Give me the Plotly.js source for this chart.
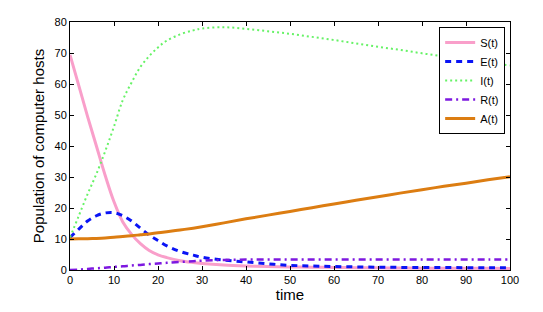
<!DOCTYPE html>
<html>
<head>
<meta charset="utf-8">
<script src="https://cdn.plot.ly/plotly-3.0.1.min.js"></script>
<style>html,body{margin:0;padding:0;background:#fff;}#chart{width:543px;height:312px;}</style>
</head>
<body>
<div id="chart"></div>
<script>
var time = [0,2,4,6,8,10,12,14,16,18,20,22,25,28,30,35,40,45,50,55,60,65,70,75,80,85,90,95,100];
var S = [69.4,59.5,49.5,40,30.5,22,15.5,11.5,8.5,6.3,4.9,4,3,2.4,2.1,1.6,1.3,1.1,1,0.9,0.8,0.75,0.7,0.65,0.6,0.6,0.55,0.55,0.5];
var E = [10.5,13.2,15.8,17.5,18.4,18.5,17.5,15.8,13.5,11.3,9.5,7.8,6,4.8,4.1,3.2,2.6,2,1.5,1.3,1.1,1,0.9,0.85,0.8,0.8,0.75,0.75,0.7];
var I = [10.5,17.5,24.5,31,38.3,46.3,54.8,60.5,65.5,69,71.8,74,76,77.3,77.9,78.3,77.8,77,76.2,75.2,74.2,73.1,72,71,69.9,68.9,67.9,66.9,66];
var R = [0,0.15,0.35,0.55,0.75,1,1.2,1.45,1.65,1.9,2.1,2.3,2.6,2.85,3,3.25,3.35,3.4,3.4,3.4,3.4,3.4,3.4,3.4,3.4,3.4,3.4,3.4,3.4];
var A = [10,10.05,10.1,10.2,10.35,10.55,10.8,11.05,11.35,11.65,12,12.35,12.9,13.5,13.95,15.2,16.5,17.7,18.9,20.1,21.3,22.5,23.6,24.8,25.9,27,28,29.1,30.1];
var names = ['S(t)','E(t)','I(t)','R(t)','A(t)'];

var traces = [
  {x: time, y: S, name: names[0], mode:'lines', line:{color:'#f99fca', width:3, dash:'solid', shape:'spline'}},
  {x: time, y: E, name: names[1], mode:'lines', line:{color:'#0a14f5', width:3, dash:'6px,5px', shape:'spline'}},
  {x: time, y: I, name: names[2], mode:'lines', line:{color:'#66f266', width:2, dash:'2px,3px', shape:'spline'}},
  {x: time, y: R, name: names[3], mode:'lines', line:{color:'#7d18e0', width:2.5, dash:'7px,4px,2px,4px', shape:'spline'}},
  {x: time, y: A, name: names[4], mode:'lines', line:{color:'#dc7d12', width:3, dash:'solid', shape:'spline'}}
];

var axisCommon = {
  showline:true, linecolor:'#000', linewidth:1, mirror:'ticks',
  ticks:'inside', ticklen:4, tickcolor:'#000', showgrid:false, zeroline:false,
  tickfont:{family:'Liberation Sans, Arial, sans-serif', size:11, color:'#000'}
};

var layout = {
  width:543, height:312,
  margin:{l:70, r:33, t:22, b:42},
  paper_bgcolor:'#fff', plot_bgcolor:'#fff',
  font:{family:'Liberation Sans, Arial, sans-serif', color:'#000'},
  xaxis: Object.assign({}, axisCommon, {range:[0,100], dtick:10, tick0:0,
    title:{text:'time', font:{size:15, color:'#000'}, standoff:4}}),
  yaxis: Object.assign({}, axisCommon, {range:[0,80], dtick:10, tick0:0,
    title:{text:'Population of computer hosts', font:{size:15, color:'#000'}, standoff:6}}),
  legend:{x:0.989, y:0.98, xanchor:'right', yanchor:'top', bgcolor:'#fff',
    bordercolor:'#000', borderwidth:1, font:{size:11, color:'#000'},
    itemwidth:30, tracegroupgap:0},
  showlegend:true
};

Plotly.newPlot('chart', traces, layout, {displayModeBar:false, staticPlot:true});
</script>
</body>
</html>
